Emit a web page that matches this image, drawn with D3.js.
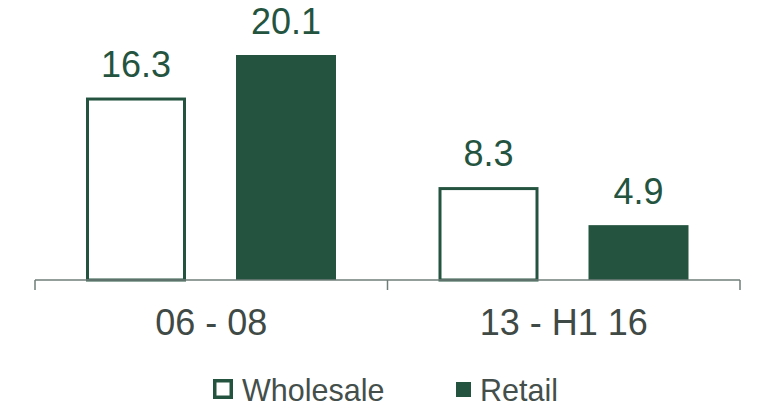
<!DOCTYPE html>
<html>
<head>
<meta charset="utf-8">
<script src="https://cdn.jsdelivr.net/npm/d3@7"></script>
<style>
  html, body { margin: 0; padding: 0; background: #fff; }
  svg { display: block; font-family: Arial, "Liberation Sans", sans-serif; }
</style>
</head>
<body>
<svg id="chart" width="769" height="406"></svg>
<script>
// Period groups and the two channel series
const periods = ["06 - 08", "13 - H1 16"];
const seriesNames = ["Wholesale", "Retail"];
const wholesale = [16.3, 8.3];
const retail = [20.1, 4.9];

const green = "#245440";
const svg = d3.select("#chart");

const margin = { left: 35, right: 29, top: 0, bottom: 126 };
const width = 769, height = 406;
const baseY = height - margin.bottom; // 280

const x0 = d3.scaleBand()
  .domain(periods)
  .range([margin.left, width - margin.right])
  .paddingInner(0)
  .paddingOuter(0);

// Bars within a period: 100px wide, 50px apart, 51px in from the band edge
const x1 = d3.scaleBand()
  .domain(seriesNames)
  .range([51, 301])
  .paddingInner(1 / 3)
  .paddingOuter(0);

const y = d3.scaleLinear()
  .domain([0, 20.1])
  .range([baseY, 55]);

const rows = periods.map((p, i) => ({
  period: p,
  values: [
    { key: "Wholesale", value: wholesale[i] },
    { key: "Retail", value: retail[i] }
  ]
}));

const groups = svg.selectAll("g.period")
  .data(rows)
  .join("g")
  .attr("class", "period")
  .attr("transform", d => `translate(${x0(d.period)},0)`);

const sw = 3;
groups.selectAll("rect")
  .data(d => d.values)
  .join("rect")
  .attr("x", d => x1(d.key) + (d.key === "Wholesale" ? sw / 2 : 0))
  .attr("width", d => x1.bandwidth() - (d.key === "Wholesale" ? sw : 0))
  .attr("y", d => y(d.value) + (d.key === "Wholesale" ? sw / 2 : 0))
  .attr("height", d => baseY - y(d.value) - (d.key === "Wholesale" ? sw / 2 : 0))
  .attr("fill", d => d.key === "Wholesale" ? "#fff" : green)
  .attr("stroke", d => d.key === "Wholesale" ? green : "none")
  .attr("stroke-width", sw);

groups.selectAll("text.value")
  .data(d => d.values)
  .join("text")
  .attr("class", "value")
  .attr("x", d => x1(d.key) + x1.bandwidth() / 2)
  .attr("y", d => y(d.value) - 21)
  .attr("text-anchor", "middle")
  .attr("font-size", 36)
  .attr("fill", green)
  .text(d => d.value.toFixed(1));

// Category axis with tick marks at the group boundaries
const axisG = svg.append("g");
axisG.append("line")
  .attr("x1", x0.range()[0]).attr("x2", x0.range()[1])
  .attr("y1", baseY).attr("y2", baseY)
  .attr("stroke", "#6f7d78").attr("stroke-width", 1.5);
const bounds = [x0.range()[0], ...periods.slice(1).map(p => x0(p)), x0.range()[1]];
axisG.selectAll("line.tick")
  .data(bounds)
  .join("line")
  .attr("class", "tick")
  .attr("x1", d => d).attr("x2", d => d)
  .attr("y1", baseY).attr("y2", baseY + 10)
  .attr("stroke", "#6f7d78").attr("stroke-width", 1.5);
axisG.selectAll("text")
  .data(periods)
  .join("text")
  .attr("x", d => x0(d) + x0.bandwidth() / 2)
  .attr("y", 335)
  .attr("text-anchor", "middle")
  .attr("font-size", 36)
  .attr("fill", "#3f4a46")
  .text(d => d);

// Legend
const legend = svg.append("g");
const legendItems = [
  { name: "Wholesale", x: 213, fill: "#fff", stroke: green, size: 20, tx: 29 },
  { name: "Retail", x: 456, fill: green, stroke: "none", size: 15, tx: 24 }
];
const li = legend.selectAll("g")
  .data(legendItems)
  .join("g")
  .attr("transform", d => `translate(${d.x},${d.stroke === "none" ? 382 : 379})`);
li.append("rect")
  .attr("x", d => d.stroke === "none" ? 0 : 1.75)
  .attr("y", d => d.stroke === "none" ? 0 : 1.75)
  .attr("width", d => d.stroke === "none" ? d.size : d.size - 3.5)
  .attr("height", d => d.stroke === "none" ? d.size : d.size - 3.5)
  .attr("fill", d => d.fill)
  .attr("stroke", d => d.stroke)
  .attr("stroke-width", 3.5);
li.append("text")
  .attr("x", d => d.tx)
  .attr("y", d => d.stroke === "none" ? 19 : 22)
  .attr("font-size", 30.5)
  .attr("fill", "#444f4b")
  .text(d => d.name);
</script>
</body>
</html>
